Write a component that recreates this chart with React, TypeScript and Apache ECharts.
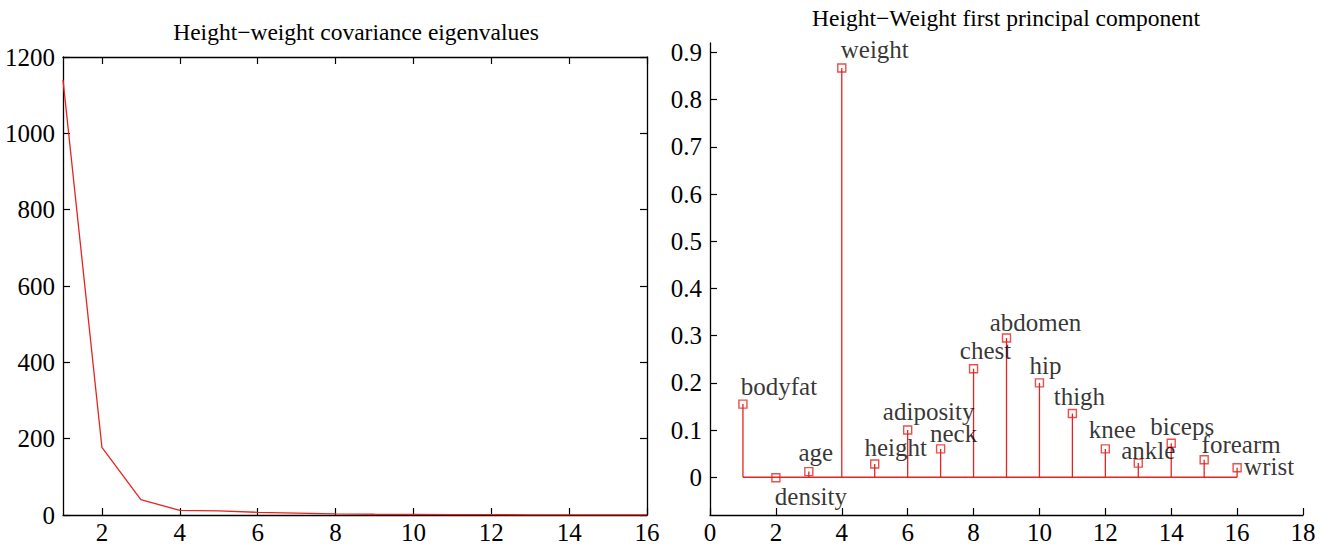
import React, { useEffect, useRef } from "react";
import * as echarts from "echarts";

// ---- Data ----
const eigIndex = [1, 2, 3, 4, 5, 6, 7, 8, 9, 10, 11, 12, 13, 14, 15, 16];
const eigenvalues = [1140, 177, 40, 12, 11, 7, 5, 3, 2, 1.5, 1, 0.8, 0.5, 0.4, 0.2, 0.1];
const leftXTicks = [2, 4, 6, 8, 10, 12, 14, 16];

const varNames = [
  "bodyfat", "density", "age", "weight", "height", "adiposity", "neck", "chest",
  "abdomen", "hip", "thigh", "knee", "ankle", "biceps", "forearm", "wrist",
];
const pcIndex = [1, 2, 3, 4, 5, 6, 7, 8, 9, 10, 11, 12, 13, 14, 15, 16];
const pcLoadings = [
  0.155, -0.001, 0.012, 0.867, 0.028, 0.1, 0.06, 0.23,
  0.295, 0.2, 0.135, 0.06, 0.03, 0.072, 0.037, 0.02,
];
const rightYTicks = [0, 0.1, 0.2, 0.3, 0.4, 0.5, 0.6, 0.7, 0.8, 0.9];

// label offsets (pixels, relative to marker centre) – layout only
const labelOffsets: [number, number][] = [
  [36, -18], [35, 19], [7, -19], [33, -19], [21, -17], [21, -19], [13, -15], [12, -18],
  [29, -16], [6, -17], [7, -17], [7, -19], [10, -13], [11, -17], [37, -15], [32, -1],
];

const RED = "#e52420";
const FONT = '"Liberation Serif", "Times New Roman", serif';
const FS = 25;

export default function App() {
  const ref = useRef<HTMLDivElement>(null);

  useEffect(() => {
    if (!ref.current) return;
    const chart = echarts.init(ref.current, undefined, { renderer: "svg" });

    const axisLine = { show: true, onZero: false, lineStyle: { color: "#000", width: 1.3 } };
    const axisTick = { show: true, inside: true, length: 7, lineStyle: { color: "#000", width: 1.2 } };
    const xLabel = {
      color: "#000", fontFamily: FONT, fontSize: FS, margin: 5,
      formatter: (v: number) => String(v),
    };
    const yLabel = {
      color: "#000", fontFamily: FONT, fontSize: FS, margin: 8,
      formatter: (v: number) => String(v),
    };

    const option: any = {
      animation: false,
      backgroundColor: "#fff",
      textStyle: { fontFamily: FONT },
      title: [
        {
          text: "Height\u2212weight covariance eigenvalues",
          left: 356,
          top: 20,
          padding: 0,
          textAlign: "center",
          textStyle: { fontFamily: FONT, fontSize: 23.5, fontWeight: "normal", color: "#000" },
        },
        {
          text: "Height\u2212Weight first principal component",
          left: 1006,
          top: 6,
          padding: 0,
          textAlign: "center",
          textStyle: { fontFamily: FONT, fontSize: 23.5, fontWeight: "normal", color: "#000" },
        },
      ],
      grid: [
        { left: 63, right: 1333 - 647, top: 57, bottom: 32 },
        { left: 710, right: 1333 - 1303, top: 43, bottom: 32 },
      ],
      xAxis: [
        {
          type: "value", gridIndex: 0, position: "bottom", min: 1, max: 16,
          axisLine, axisTick: { ...axisTick, customValues: leftXTicks },
          axisLabel: { ...xLabel, customValues: leftXTicks },
          splitLine: { show: false },
        },
        {
          type: "value", gridIndex: 0, position: "top", min: 1, max: 16,
          axisLine, axisTick: { ...axisTick, customValues: leftXTicks },
          axisLabel: { show: false },
          splitLine: { show: false },
        },
        {
          type: "value", gridIndex: 1, position: "bottom", min: 0, max: 18, interval: 2,
          axisLine, axisTick, axisLabel: xLabel,
          splitLine: { show: false },
        },
      ],
      yAxis: [
        {
          type: "value", gridIndex: 0, position: "left", min: 0, max: 1200, interval: 200,
          axisLine, axisTick, axisLabel: yLabel,
          splitLine: { show: false },
        },
        {
          type: "value", gridIndex: 0, position: "right", min: 0, max: 1200, interval: 200,
          axisLine, axisTick, axisLabel: { show: false },
          splitLine: { show: false },
        },
        {
          type: "value", gridIndex: 1, position: "left", min: -0.08, max: 0.92,
          axisLine,
          axisTick: { ...axisTick, customValues: rightYTicks },
          axisLabel: { ...yLabel, customValues: rightYTicks },
          splitLine: { show: false },
        },
      ],
      series: [
        {
          type: "line",
          xAxisIndex: 0,
          yAxisIndex: 0,
          data: eigIndex.map((x, i) => [x, eigenvalues[i]]),
          showSymbol: false,
          symbol: "none",
          lineStyle: { color: RED, width: 1.3 },
        },
        {
          type: "line",
          xAxisIndex: 2,
          yAxisIndex: 2,
          data: [
            [pcIndex[0], 0],
            [pcIndex[pcIndex.length - 1], 0],
          ],
          symbol: "none",
          lineStyle: { color: RED, width: 1.3 },
        },
        {
          type: "custom",
          xAxisIndex: 2,
          yAxisIndex: 2,
          data: pcIndex.map((x, i) => [x, pcLoadings[i]]),
          renderItem: (_params: any, api: any) => {
            const p0 = api.coord([api.value(0), 0]);
            const p1 = api.coord([api.value(0), api.value(1)]);
            return {
              type: "line",
              shape: { x1: p0[0], y1: p0[1], x2: p1[0], y2: p1[1] },
              style: { stroke: RED, lineWidth: 1.3 },
            };
          },
        },
        {
          type: "scatter",
          xAxisIndex: 2,
          yAxisIndex: 2,
          symbol: "rect",
          symbolSize: 8,
          itemStyle: { color: "rgba(255,255,255,0)", borderColor: RED, borderWidth: 1.4 },
          data: pcIndex.map((x, i) => ({
            name: varNames[i],
            value: [x, pcLoadings[i]],
            label: { offset: labelOffsets[i] },
          })),
          label: {
            show: true,
            position: "inside",
            formatter: (p: any) => p.name,
            color: "#000",
            fontFamily: FONT,
            fontSize: FS,
          },
          z: 5,
        },
      ],
    };

    chart.setOption(option);
    return () => chart.dispose();
  }, []);

  return (
    <div
      ref={ref}
      style={{ position: "fixed", left: 0, top: 0, width: 1333, height: 547, background: "#fff" }}
    />
  );
}
